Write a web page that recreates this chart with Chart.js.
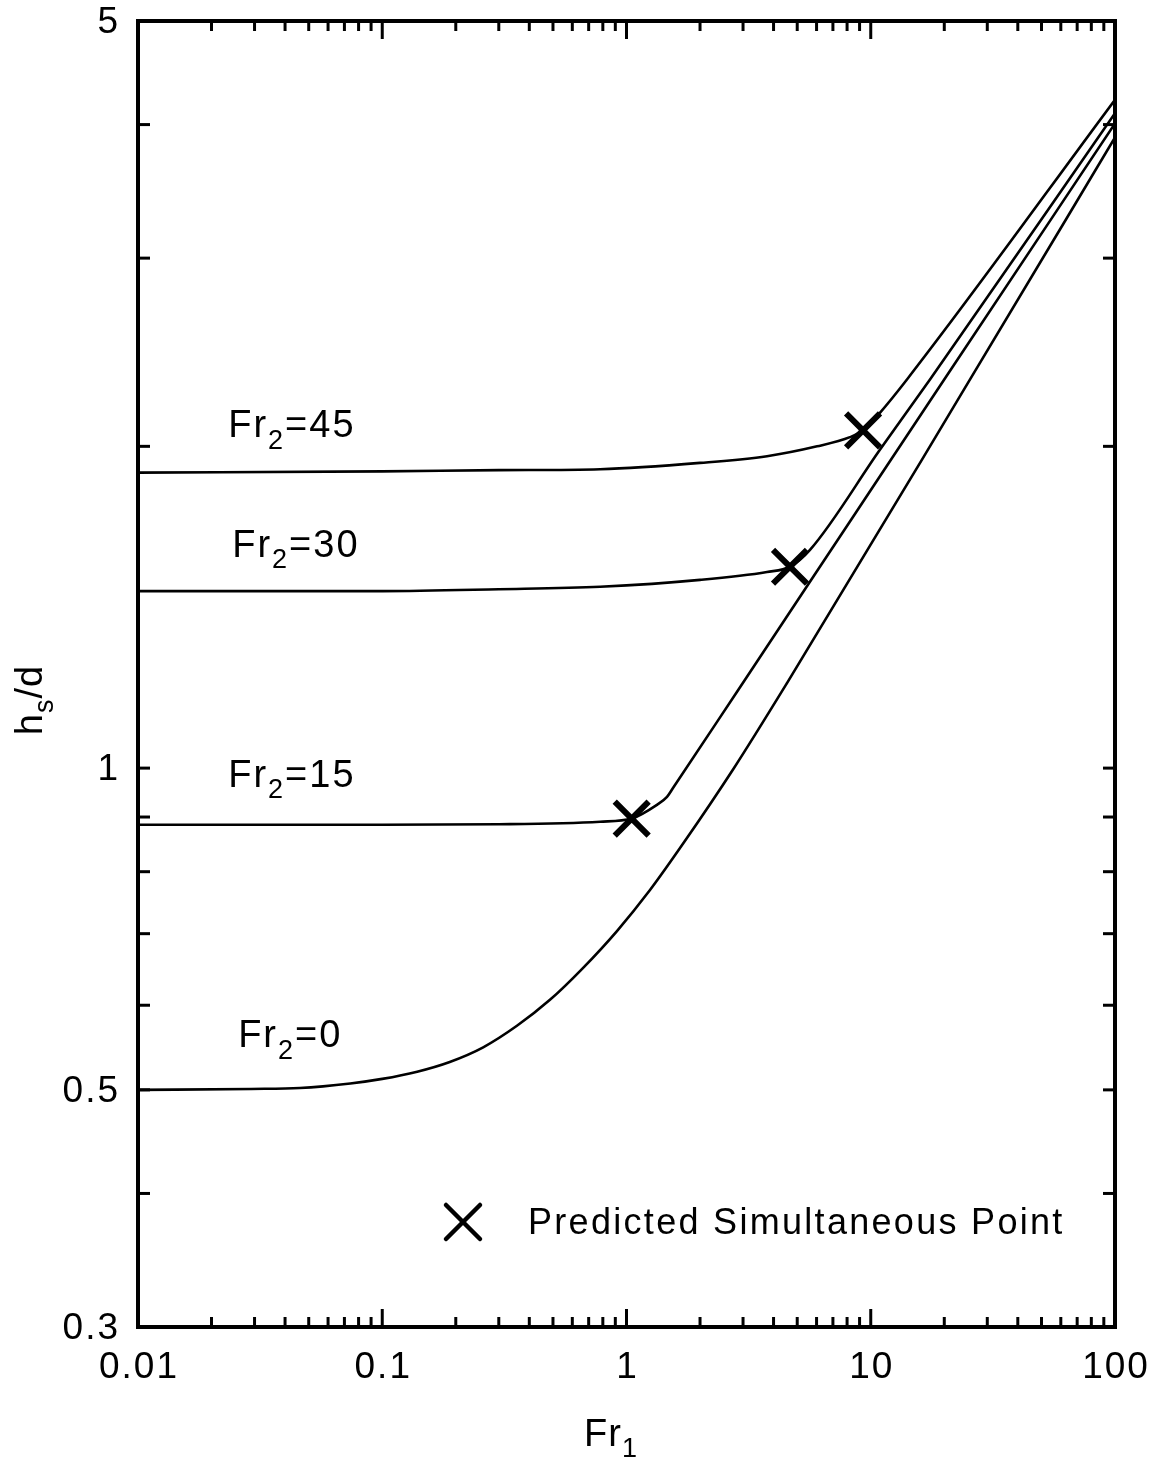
<!DOCTYPE html>
<html>
<head>
<meta charset="utf-8">
<script src="https://cdn.jsdelivr.net/npm/chart.js@4.4.1/dist/chart.umd.min.js"></script>
<style>
  html, body { margin: 0; padding: 0; background: #fff; }
  #wrap { width: 1153px; height: 1457px; }
</style>
</head>
<body>
<div id="wrap"><canvas id="chart" width="1153" height="1457"></canvas></div>
<script>
// curves (Fr1 -> hs/d)
const fr2_0_x  = [0.01, 0.029, 0.046, 0.074, 0.10, 0.139, 0.189, 0.259, 0.356, 0.486, 0.663, 0.914, 1.248, 1.70, 2.73, 4.54, 25.5, 100];
const fr2_0_y  = [0.500, 0.501, 0.502, 0.507, 0.512, 0.520, 0.531, 0.548, 0.574, 0.607, 0.650, 0.704, 0.769, 0.849, 0.997, 1.201, 2.31, 3.89];

const fr2_15_x = [0.01, 0.1, 0.3, 0.78, 1.05, 1.333, 1.465, 1.55, 2.835, 8.22, 20.5, 100];
const fr2_15_y = [0.885, 0.885, 0.886, 0.891, 0.897, 0.924, 0.940, 0.958, 1.179, 1.701, 2.33, 4.01];

const fr2_30_x = [0.01, 0.1, 0.3, 0.78, 2.0, 3.76, 4.67, 5.64, 10.9, 17.48, 100];
const fr2_30_y = [1.464, 1.464, 1.47, 1.478, 1.50, 1.526, 1.543, 1.60, 1.985, 2.31, 4.10];

const fr2_45_x = [0.01, 0.1, 0.3, 0.78, 2.0, 3.76, 6.03, 8.22, 9.3, 10.9, 14.07, 100];
const fr2_45_y = [1.89, 1.895, 1.90, 1.904, 1.93, 1.958, 2.00, 2.04, 2.07, 2.15, 2.31, 4.22];

// predicted simultaneous points
const pointX = [9.3, 4.67, 1.05];
const pointY = [2.07, 1.543, 0.897];

// curve labels: subscript, rest of text, anchor (left edge, baseline) in data units
const curveLabels = [
  { sub: '2', rest: '=45', x: 0.0234, y: 2.04 },
  { sub: '2', rest: '=30', x: 0.0243, y: 1.576 },
  { sub: '2', rest: '=15', x: 0.0234, y: 0.96 },
  { sub: '2', rest: '=0',  x: 0.0257, y: 0.548 }
];

// axes
const xTicks = [0.01, 0.02, 0.03, 0.04, 0.05, 0.06, 0.07, 0.08, 0.09,
                0.1, 0.2, 0.3, 0.4, 0.5, 0.6, 0.7, 0.8, 0.9,
                1, 2, 3, 4, 5, 6, 7, 8, 9,
                10, 20, 30, 40, 50, 60, 70, 80, 90, 100];
const xMajor = [0.01, 0.1, 1, 10, 100];
const xLabels = ['0.01', '0.1', '1', '10', '100'];
const yTicks = [0.3, 0.4, 0.5, 0.6, 0.7, 0.8, 0.9, 1, 2, 3, 4, 5];
const yLabelVals = [5, 1, 0.5, 0.3];
const yLabels = ['5', '1', '0.5', '0.3'];

const legendText = 'Predicted Simultaneous Point';
const FONT = '"Liberation Sans", Arial, Helvetica, sans-serif';

const toXY = (xs, ys) => xs.map((x, i) => ({ x: x, y: ys[i] }));

function curve(xs, ys) {
  return {
    type: 'line',
    data: toXY(xs, ys),
    borderColor: '#000',
    borderWidth: 2.6,
    pointRadius: 0,
    cubicInterpolationMode: 'monotone',
    fill: false
  };
}

// text with a subscript: main + sub + rest
function subText(ctx, x, y, main, sub, rest, size, spacing) {
  ctx.letterSpacing = spacing + 'px';
  ctx.font = size + 'px ' + FONT;
  ctx.fillText(main, x, y);
  let w = ctx.measureText(main).width;
  ctx.font = Math.round(size * 0.72) + 'px ' + FONT;
  ctx.fillText(sub, x + w, y + size * 0.3);
  w += ctx.measureText(sub).width;
  ctx.font = size + 'px ' + FONT;
  ctx.fillText(rest, x + w, y);
  ctx.letterSpacing = '0px';
}
function subWidth(ctx, main, sub, rest, size, spacing) {
  ctx.letterSpacing = spacing + 'px';
  ctx.font = size + 'px ' + FONT;
  let w = ctx.measureText(main).width + ctx.measureText(rest).width;
  ctx.font = Math.round(size * 0.72) + 'px ' + FONT;
  w += ctx.measureText(sub).width;
  ctx.letterSpacing = '0px';
  return w;
}

function seg(ctx, x1, y1, x2, y2) {
  ctx.beginPath();
  ctx.moveTo(x1, y1);
  ctx.lineTo(x2, y2);
  ctx.stroke();
}

const framePlugin = {
  id: 'frame',
  afterDatasetsDraw(chart) {
    const ctx = chart.ctx;
    const sx = chart.scales.x, sy = chart.scales.y;
    const { left, right, top, bottom } = chart.chartArea;
    ctx.save();
    ctx.strokeStyle = '#000';
    ctx.fillStyle = '#000';

    // frame
    ctx.lineWidth = 4;
    ctx.strokeRect(left, top, right - left, bottom - top);

    // inward ticks
    ctx.lineWidth = 3;
    xTicks.forEach(v => {
      const px = sx.getPixelForValue(v);
      const len = xMajor.includes(v) ? 18 : 10;
      seg(ctx, px, bottom, px, bottom - len);
      seg(ctx, px, top, px, top + len);
    });
    yTicks.forEach(v => {
      const py = sy.getPixelForValue(v);
      seg(ctx, left, py, left + 12, py);
      seg(ctx, right, py, right - 12, py);
    });

    // tick labels
    ctx.font = '37px ' + FONT;
    ctx.letterSpacing = '2px';
    ctx.textAlign = 'center';
    ctx.textBaseline = 'alphabetic';
    xMajor.forEach((v, i) => {
      ctx.fillText(xLabels[i], sx.getPixelForValue(v) + 1, bottom + 51);
    });
    ctx.textAlign = 'right';
    ctx.textBaseline = 'middle';
    yLabelVals.forEach((v, i) => {
      ctx.fillText(yLabels[i], left - 18, sy.getPixelForValue(v) + 2);
    });
    ctx.letterSpacing = '0px';

    // curve labels
    ctx.textAlign = 'left';
    ctx.textBaseline = 'alphabetic';
    curveLabels.forEach(l => {
      subText(ctx, sx.getPixelForValue(l.x), sy.getPixelForValue(l.y), 'Fr', l.sub, l.rest, 38, 2);
    });

    // axis titles
    const wx = subWidth(ctx, 'Fr', '1', '', 38, 1);
    subText(ctx, 611 - wx / 2, 1446, 'Fr', '1', '', 38, 1);
    ctx.save();
    ctx.translate(42, 700);
    ctx.rotate(-Math.PI / 2);
    const wy = subWidth(ctx, 'h', 's', '/d', 38, 1);
    subText(ctx, -wy / 2, 0, 'h', 's', '/d', 38, 1);
    ctx.restore();

    // legend
    ctx.lineWidth = 4.5;
    ctx.lineCap = 'round';
    const lx = 463, ly = 1222, h = 17;
    seg(ctx, lx - h, ly - h, lx + h, ly + h);
    seg(ctx, lx - h, ly + h, lx + h, ly - h);
    ctx.font = '36px ' + FONT;
    ctx.letterSpacing = '2.3px';
    ctx.textBaseline = 'middle';
    ctx.fillText(legendText, 528, ly + 2);
    ctx.letterSpacing = '0px';
    ctx.restore();
  }
};

new Chart(document.getElementById('chart'), {
  data: {
    datasets: [
      {
        type: 'scatter',
        data: toXY(pointX, pointY),
        pointStyle: 'crossRot',
        pointRadius: 24,
        pointBorderWidth: 6,
        borderColor: '#000',
        backgroundColor: '#000'
      },
      curve(fr2_45_x, fr2_45_y),
      curve(fr2_30_x, fr2_30_y),
      curve(fr2_15_x, fr2_15_y),
      curve(fr2_0_x, fr2_0_y)
    ]
  },
  options: {
    responsive: false,
    devicePixelRatio: 1,
    animation: false,
    layout: { autoPadding: false, padding: { left: 138, right: 38, top: 21, bottom: 130 } },
    plugins: { legend: { display: false }, tooltip: { enabled: false } },
    scales: {
      x: { type: 'logarithmic', min: 0.01, max: 100, display: false },
      y: { type: 'logarithmic', min: 0.3, max: 5, display: false }
    }
  },
  plugins: [framePlugin]
});
</script>
</body>
</html>
